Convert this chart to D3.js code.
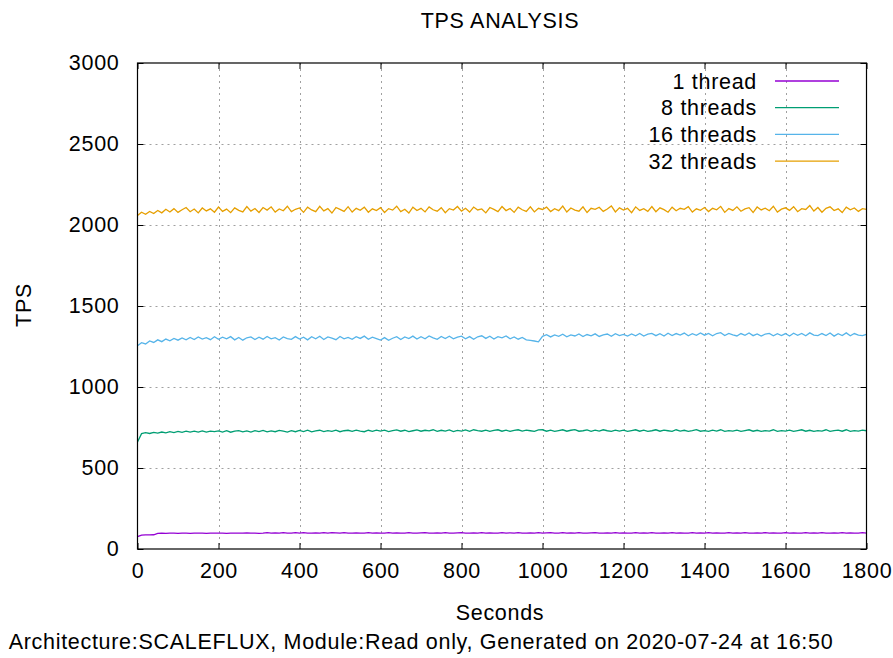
<!DOCTYPE html>
<html><head><meta charset="utf-8">
<script src="https://cdn.jsdelivr.net/npm/d3@7"></script>
<style>body{margin:0;background:#fff}svg{display:block}text{font-family:"Liberation Sans",Arial,sans-serif;fill:#000;letter-spacing:0.7px}</style>
</head><body><svg id="c" width="893" height="658"></svg>
<script>
const seriesNames = ["1 thread", "8 threads", "16 threads", "32 threads"];
const seriesColors = ["#9400d3", "#009e73", "#56b4e9", "#e69f00"];
const xTicks = [0,200,400,600,800,1000,1200,1400,1600,1800];
const yTicks = [0,500,1000,1500,2000,2500,3000];
const timeStep = 10; // seconds between samples
const tps1 = [76,86,87,87,88,97,98,97,98,98,97,98,98,97,98,98,98,97,98,98,
98,98,97,98,98,98,98,100,98,98,97,98,101,98,100,98,101,98,98,101,
98,101,98,98,100,98,101,98,101,100,98,101,98,98,100,98,98,101,98,100,
98,98,101,98,100,98,98,101,98,98,100,101,98,98,100,98,101,98,98,100,
101,98,98,100,98,101,98,100,98,98,101,98,100,98,101,98,98,100,98,101,
98,100,101,98,98,101,98,100,98,101,98,98,100,101,98,98,100,98,101,98,
100,98,98,101,98,100,98,101,98,98,100,98,101,98,100,98,98,101,98,100,
98,101,98,100,98,98,101,98,100,98,101,98,98,100,98,101,98,100,98,98,
101,98,100,98,98,101,98,100,98,101,98,98,100,98,101,98,100,98,98,101,
98];
const tps8 = [660,712,718,713,720,715,722,717,724,719,726,720,727,721,728,722,729,721,727,724,
729,722,730,721,727,731,723,729,722,731,725,732,723,729,724,732,727,722,730,724,
732,725,733,723,729,733,725,731,726,734,724,730,733,726,734,728,724,733,726,734,
728,734,725,731,735,727,733,725,730,735,727,733,729,736,726,733,728,735,725,732,
728,735,726,736,731,727,734,726,732,736,727,734,726,732,736,728,734,730,726,735,
736,727,734,726,731,736,727,733,737,727,730,735,726,734,728,736,730,726,734,728,
734,726,731,736,727,734,726,730,736,727,734,730,726,736,728,733,726,731,737,727,
731,726,734,728,736,726,731,728,734,726,731,736,727,733,726,731,728,736,726,731,
728,734,726,731,736,727,733,726,731,728,736,726,731,734,727,736,726,731,728,734,
730];
const tps16 = [1255,1274,1266,1284,1275,1291,1280,1296,1285,1300,1289,1303,1291,1306,1293,1309,1296,1304,1292,1310,
1294,1307,1297,1311,1291,1306,1289,1304,1309,1293,1307,1295,1312,1297,1305,1290,1309,1299,1294,1311,
1296,1307,1291,1310,1298,1313,1293,1309,1302,1292,1312,1297,1306,1294,1311,1300,1314,1295,1308,1299,
1290,1305,1288,1301,1311,1293,1309,1299,1314,1296,1310,1298,1315,1303,1294,1312,1299,1313,1297,1308,
1314,1298,1311,1295,1310,1316,1300,1313,1296,1311,1304,1315,1298,1309,1295,1306,1291,1288,1284,1279,
1313,1323,1309,1321,1313,1326,1310,1322,1315,1327,1311,1324,1316,1328,1312,1322,1327,1313,1329,1317,
1325,1314,1328,1316,1330,1315,1326,1331,1317,1329,1315,1332,1318,1330,1320,1333,1316,1329,1319,1334,
1320,1331,1316,1330,1335,1318,1331,1322,1315,1330,1319,1333,1317,1328,1314,1327,1331,1316,1329,1318,
1330,1315,1332,1319,1331,1316,1334,1320,1317,1330,1318,1333,1314,1329,1318,1334,1316,1330,1320,1317,
1325];
const tps32 = [2058,2079,2066,2084,2071,2090,2075,2097,2080,2101,2078,2094,2108,2082,2099,2075,2105,2087,2100,2079,
2111,2084,2098,2076,2106,2090,2081,2114,2086,2102,2077,2108,2092,2112,2080,2099,2088,2116,2083,2097,
2105,2078,2110,2093,2082,2115,2087,2101,2074,2108,2096,2084,2113,2080,2103,2091,2110,2079,2100,2089,
2107,2077,2101,2092,2116,2083,2097,2074,2110,2089,2103,2081,2112,2094,2085,2107,2076,2101,2092,2114,
2086,2103,2080,2111,2093,2099,2075,2108,2096,2083,2114,2089,2102,2078,2110,2094,2084,2112,2081,2103,
2096,2110,2083,2101,2089,2117,2080,2105,2092,2085,2112,2077,2103,2097,2110,2084,2099,2118,2081,2106,
2092,2103,2076,2112,2090,2101,2084,2114,2082,2106,2095,2079,2110,2088,2103,2097,2113,2080,2100,2091,
2108,2083,2103,2094,2115,2078,2101,2090,2112,2085,2099,2107,2077,2111,2093,2104,2088,2116,2080,2098,
2106,2090,2113,2082,2101,2096,2120,2086,2108,2079,2103,2112,2089,2100,2077,2110,2094,2105,2084,2101,
2097];
const series = [tps1, tps8, tps16, tps32];

const svg = d3.select("#c");
const L = 137.5, R = 866.5, T = 63, B = 549;
const x = d3.scaleLinear().domain([0,1800]).range([L,R]);
const y = d3.scaleLinear().domain([0,3000]).range([B,T]);
const FS = 21.5;

// grid
const g = svg.append("g");
g.selectAll(".gx").data(xTicks.slice(1,-1)).join("line")
 .attr("x1",d=>Math.round(x(d))+0.5).attr("x2",d=>Math.round(x(d))+0.5).attr("y1",T).attr("y2",B)
 .attr("stroke","#a0a0a0").attr("stroke-dasharray","2,4");
g.selectAll(".gy").data(yTicks.slice(1,-1)).join("line")
 .attr("y1",d=>Math.round(y(d))+0.5).attr("y2",d=>Math.round(y(d))+0.5).attr("x1",L).attr("x2",R)
 .attr("stroke","#a0a0a0").attr("stroke-dasharray","2,4");

// series
const line = d3.line().x((d,i)=>x(i*timeStep)).y(d=>y(d));
series.forEach((s,k)=>{
  svg.append("path").datum(s).attr("d",line).attr("fill","none")
   .attr("stroke",seriesColors[k]).attr("stroke-width",1.3);
});

// axes with inward ticks
const ax = d3.axisBottom(x).tickValues(xTicks).tickSize(-6).tickPadding(14).tickFormat(d3.format("d"));
const axT = d3.axisTop(x).tickValues(xTicks).tickSize(-6).tickFormat("");
const ay = d3.axisLeft(y).tickValues(yTicks).tickSize(-6).tickPadding(18).tickFormat(d3.format("d"));
const ayR = d3.axisRight(y).tickValues(yTicks).tickSize(-6).tickFormat("");
function style(sel){sel.select(".domain").remove();sel.selectAll("line").attr("stroke","#000");
  sel.selectAll("text").attr("font-size",FS).attr("font-family","Liberation Sans, Arial, sans-serif").attr("fill","#000");}
svg.append("g").attr("transform",`translate(0,${B})`).call(ax).call(style);
svg.append("g").attr("transform",`translate(0,${T})`).call(axT).call(style);
svg.append("g").attr("transform",`translate(${L},0)`).call(ay).call(style);
svg.append("g").attr("transform",`translate(${R},0)`).call(ayR).call(style);

// frame
svg.append("rect").attr("x",L).attr("y",T).attr("width",R-L).attr("height",B-T)
 .attr("fill","none").attr("stroke","#000").attr("stroke-width",1.2);

// legend
const lg = svg.append("g");
seriesNames.forEach((n,k)=>{
  const yy = 81 + k*26.7;
  lg.append("text").attr("x",757).attr("y",yy).attr("dy","0.35em").attr("text-anchor","end")
   .attr("font-size",FS).text(n);
  lg.append("line").attr("x1",775).attr("x2",839).attr("y1",yy).attr("y2",yy)
   .attr("stroke",seriesColors[k]).attr("stroke-width",1.3);
});

// titles
svg.append("text").attr("x",500).attr("y",20).attr("dy","0.35em").attr("text-anchor","middle").attr("font-size",FS).text("TPS ANALYSIS");
svg.append("text").attr("x",500).attr("y",612).attr("dy","0.35em").attr("text-anchor","middle").attr("font-size",FS).text("Seconds");
svg.append("text").attr("transform","translate(23,305) rotate(-90)").attr("dy","0.35em").attr("text-anchor","middle").attr("font-size",FS).text("TPS");
svg.append("text").attr("x",421).attr("y",641).attr("dy","0.35em").attr("text-anchor","middle").attr("font-size",FS).text("Architecture:SCALEFLUX, Module:Read only, Generated on 2020-07-24 at 16:50");
</script></body></html>
